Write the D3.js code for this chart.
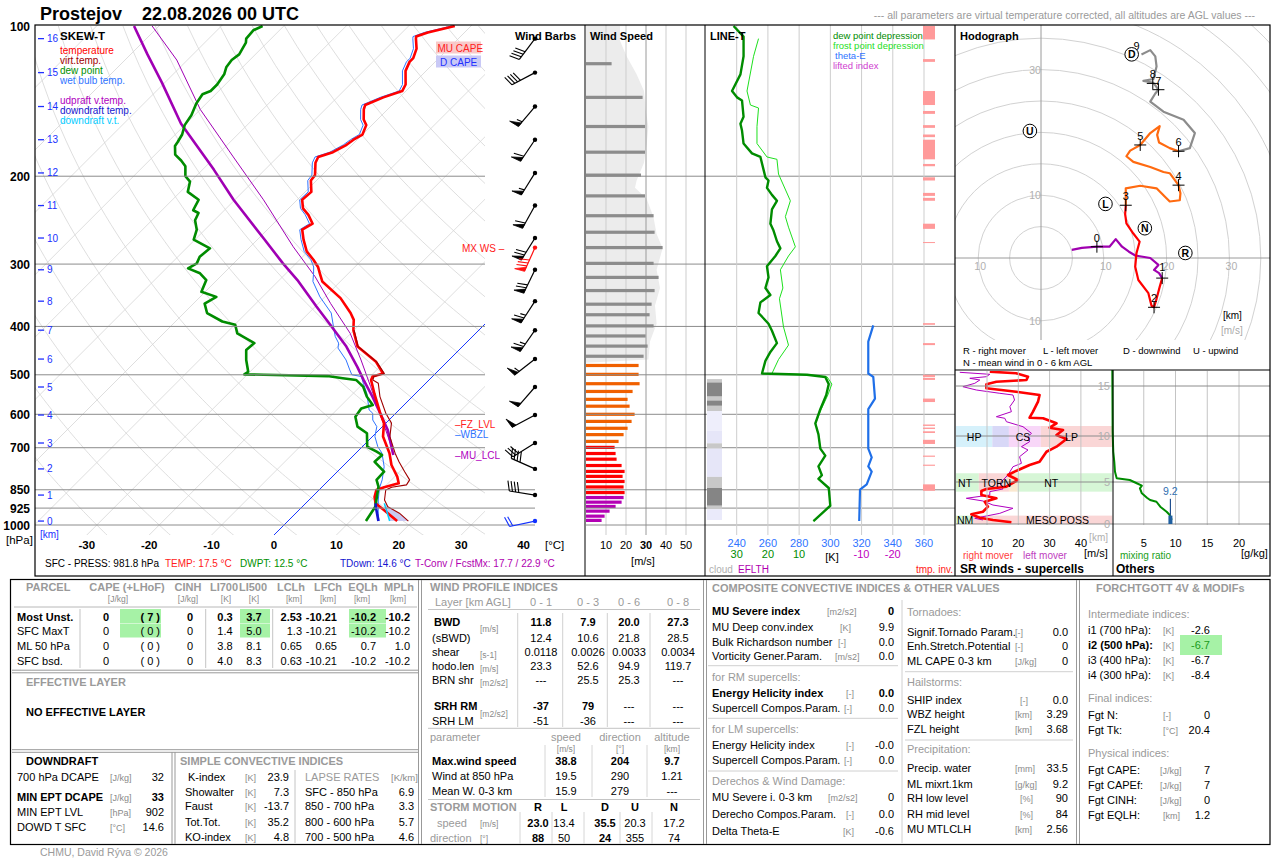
<!DOCTYPE html>
<html>
<head>
<meta charset="utf-8">
<title>Prostejov 22.08.2026 00 UTC</title>
<script src="https://cdn.jsdelivr.net/npm/d3@7/dist/d3.min.js"></script>
<style>
  html, body { margin: 0; padding: 0; background: #fff; }
  svg { display: block; font-family: "Liberation Sans", Arial, Helvetica, sans-serif; }
</style>
</head>
<body>
<svg id="chart" width="1280" height="860"></svg>
<script>
(function () {
  "use strict";

  // =================== DATA ===================
  // ---- skew-T profiles: pressure [hPa] / temperature [°C], surface upward ----
  var tempP = [982,933,905,878,851,840,825,800,758,718,665,625,597,545,512,504,497,471,439,407,388,376,351,325,313,304,294,283,268,256,249,239,232,223,215,204,199,188,183,179,173,169,165,158,154,147,144,139,135,131,123,118,116,111,106,105,103,100];
  var tempT = [17.5,13.6,11.2,10.0,9.2,10.0,11.7,10.4,7.6,5.4,1.7,-0.3,-2.5,-6.6,-9.3,-9.6,-8.4,-11.4,-16.8,-20.1,-21.7,-23.3,-27.3,-32.9,-34.6,-35.9,-37.8,-40.2,-42.6,-44.4,-43.7,-45.8,-47.7,-49.2,-49.0,-50.9,-51.1,-53.0,-53.5,-51.9,-50.9,-50.6,-50.0,-50.9,-52.2,-53.8,-54.3,-52.6,-50.6,-51.1,-53.3,-54.1,-54.1,-55.1,-56.8,-57.1,-55.9,-52.6];
  var dewP = [982,919,838,812,782,747,724,713,697,655,635,607,584,575,553,528,512,508,503,500,499,493,467,446,432,413,397,391,376,360,349,341,323,313,306,299,290,279,268,256,245,237,234,223,215,205,200,191,186,181,174,171,165,158,151,143,137,135,131,125,121,117,114,108,106,102,100];
  var dewT = [12.5,11.7,9.0,7.6,7.5,4.4,4.5,3.1,0.8,-1.4,-4.0,-5.9,-6.3,-5.0,-7.3,-9.5,-11.7,-14.1,-16.9,-27.3,-30.5,-30.3,-32.5,-34.1,-33.9,-38.2,-39.9,-42.5,-46.3,-48.2,-47.4,-50.6,-51.7,-53.8,-56.5,-55.9,-56.5,-56.2,-60.2,-61.3,-63.1,-63.7,-65.0,-65.8,-68.8,-70.1,-71.7,-73.3,-74.9,-76.8,-78.2,-78.4,-78.9,-80.0,-80.5,-81.6,-82.1,-81.3,-81.3,-81.8,-82.6,-82.9,-82.6,-83.4,-84.0,-84.2,-83.4];
  var wbP = [982,947,891,844,812,764,718,697,665,635,616,597,588,545,520,504,500,489,467,442,432,419,400,376,349,325,313,304,294,283,268,256,249,239,232,223,215,204,199,188,183,179,173,169,165,158,154,147,144,139,135,131,123,118,116,111,106,105,103,100];
  var wbT = [14.6,13.2,11.1,9.4,8.5,6.7,4.2,2.5,0.4,-0.9,-2.6,-3.7,-4.8,-7.8,-10.0,-11.4,-13.2,-14.3,-16.5,-19.7,-20.4,-22.0,-23.9,-26.4,-30.8,-34.4,-35.6,-36.6,-38.2,-40.6,-43.0,-44.8,-44.2,-46.3,-48.1,-49.6,-49.5,-51.4,-51.6,-53.5,-54.0,-52.4,-51.4,-51.1,-50.5,-51.4,-52.7,-54.3,-54.8,-53.1,-51.1,-51.6,-53.8,-54.6,-54.6,-55.6,-57.3,-57.6,-56.4,-53.1];
  var tvP = [982,947,919,891,851,840,831,812,782,747,718,665,625,597,553,520,512,504,497,471,439,407];
  var tvT = [19.3,16.6,13.7,12.1,10.7,11.2,13.2,12.9,10.8,8.3,6.3,2.8,0.9,-1.6,-5.2,-7.6,-9.0,-9.4,-8.2,-11.3,-16.7,-20.0];
  var upP = [724,645,597,553,512,482,439,400,365,323,299,266,223,194,157,130,114,100];
  var upT = [6.3,1.4,-2.5,-6.4,-10.5,-13.6,-18.6,-24.2,-29.8,-37.1,-42.1,-49.3,-60.2,-68.2,-80.8,-90.4,-97.3,-104.0];
  var up2P = [697,528,467,413,360,318,277,223,183,147,117,100];
  var up2T = [4.7,-8.3,-14.1,-20.1,-28.0,-34.8,-43.1,-55.4,-67.1,-80.0,-91.7,-101.1];
  var downP = [905,933,982];
  var downT = [11.2,12.4,14.5];
  var downVT = [12.6,14.0,16.3];

  // ---- axes of the skew-T ----
  var pLevels = [100,200,300,400,500,600,700,850,925,1000];
  var tTicks = [-30,-20,-10,0,10,20,30,40];
  var kmLabels = [0,1,2,3,4,5,6,7,8,9,10,11,12,13,14,15,16];
  var kmP = [982,871,772,685,602,529,465,407,356,308,266,229,197,169,145,124,106];

  // ---- wind barbs at every km (direction from [°], speed [m/s]) ----
  var barbDir = [258,279,294,238,242,221,232,215,213,206,212,209,212,214,220,242,217];
  var barbSpd = [9.0,19.6,19.6,15.9,24.8,24.0,27.7,32.7,33.0,35.7,34.0,31.0,27.5,29.5,28.5,21.0,21.0];
  var maxWindP = 278;

  // ---- wind speed column ----
  var wsP = [119,139,159,179,199,219,240,259,278,299,319,339,361,379,399,418,438,459,479,499,521,540,560,578,600,620,640,659,680,699,719,738,760,781,799,818,839,861,881,900,918,938,960,979];
  var wsV = [12.8,28.3,29.5,29.5,27.5,29.5,33.8,34.3,38.3,33.8,36.3,34.3,32.8,31.8,33.8,29.8,30.8,28.8,26.3,26.3,26.8,23.3,20.8,21.8,24.3,22.8,20.8,18.8,16.3,14.3,14.8,15.3,17.8,19.3,18.3,19.3,18.8,19.3,18.8,17.8,14.8,11.8,9.3,7.8];
  var envP = [100,107,115,125,135,147,159,173,188,204,211,222,241,261,279,308,335,363,395,429,466,473];
  var envV = [17,17,20.3,25.3,29,29.8,31.2,30.3,29,25.3,24.5,30.3,33.7,35.3,38.3,35.3,37,34.5,35.3,32,31.2,0];
  var wsTicks = [10,20,30,40,50];

  // ---- LINE-T column ----
  var ddP = [982,915,843,808,795,763,726,703,658,626,586,549,522,505,500,497,469,450,432,408,395,376,358,346,335,319,303,289,279,270,257,249,233,224,218,211,204,201,194,183,180,172,162,157,152,141,139,135,125,115,105,100];
  var ddV = [5.4,0,0.5,3.8,2.7,3.8,1.6,3.2,3.8,4.8,3.2,1.3,0.5,1.6,7.5,21.9,20.8,19.2,17.1,18.7,19.8,23.0,22.4,19.2,20.8,19.8,20.3,17.6,16.0,17.1,18.2,19.2,18.7,17.1,18.7,20.3,19.8,20.8,21.4,22.4,25.1,27.8,28.3,28.8,27.8,28.3,29.9,31.5,28.8,27.8,27.8,31.0];
  var fpP = [982,915,843,808,795,763,726,703,658,626,586,549,522,505,500,497,466,436,401,352,335,308,289,277,253,241,224,198,185,183,172,159,146,144,135,115,106];
  var fpV = [5.4,0,0.5,3.8,2.7,3.8,1.6,3.2,3.8,4.7,2.9,0.8,-0.5,1.0,7.0,18.7,16.6,13.4,15.0,16.3,15.2,16.0,13.4,11.2,13.4,14.4,12.8,16.6,17.1,20.3,23.5,23.5,23.0,25.6,26.7,24.6,23.0];
  var teP = [982,849,829,782,763,732,703,586,558,505,497,429,398];
  var teK = [318.5,319.0,323.3,326.5,324.3,326.5,324.3,324.3,328.6,327.5,324.3,324.3,327.5];
  var invTop = [100,116.5,135,148,158,165,169,189,201,216,221,249,271,394,432,500,507,558,629,638,649,675,726,757,829];
  var invBot = [106.4,118,144,150,160,167,185,191,204,219,224,255,272,397,436,505,512,567,633,642,654,688,730,761,854];
  var cloudTop = [510,518,553,563,577,591,647,686,703,801,843,915,930];
  var cloudBot = [518,553,563,577,591,647,686,703,801,843,915,930,977];
  var cloudFrac = [0.5,1,0.5,1,0.5,0.05,0.15,0.5,0.15,0.5,1,0.5,0.1];
  var kTicks = [240,260,280,300,320,340,360];
  var ddTicks = [30,20,10];
  var liTicks = [-10,-20];

  // ---- hodograph [m/s] by layer ----
  var hodo01U = [4.9,6.5,8.9,10.9,11.9,12.9,14.0,15.0,17.4,18.7,18.0,18.8,19.3];
  var hodo01V = [1.3,1.6,1.8,1.8,3.0,1.8,1.0,0.4,0.0,-1.1,-1.9,-2.4,-3.2];
  var hodo13U = [19.3,18.9,18.4,18.0,17.6,17.1,15.5,15.0,15.2,15.7,14.7,13.6,13.4,13.5];
  var hodo13V = [-3.2,-4.6,-6.5,-7.85,-7.6,-5.6,-3.5,-1.4,0.75,2.6,3.9,5.5,7.0,8.4];
  var hodo36U = [13.5,13.5,15.8,18.4,19.5,20.5,22.1,22.2,21.9,20.5,19.5,17.4,14.7,13.6,14.2,15.8,17.4,18.9,18.5,18.8,20.5,21.9];
  var hodo36V = [8.4,11.1,11.5,11.1,10.0,9.0,9.2,10.3,11.6,13.5,13.7,14.5,15.3,16.2,17.1,18.0,19.9,21.0,19.6,18.4,17.5,17.0];
  var hodo69U = [21.9,23.7,24.5,22.7,19.5,17.4,18.2,18.7,17.9,16.3,17.9,18.4,18.2,17.4,16.0];
  var hodo69V = [17.0,17.5,19.9,22.0,23.3,24.9,26.2,26.8,27.9,28.2,28.5,30.5,32.1,33.1,32.4];
  var kmHodoU = [8.9,19.3,18.0,13.5,21.9,15.8,21.9,18.7,17.8,16.0];
  var kmHodoV = [1.8,-3.2,-7.85,8.4,11.6,18.0,17.0,26.8,27.8,32.4];
  var hodoTickU = [-10,10,20,30];
  var hodoTickV = [30,10,-10];

  // ---- storm motion ----
  var smName = ["R","L","D","U","N"];
  var smSpeed = [23.0,13.4,35.5,20.3,17.2];
  var smDir = [88,50,24,355,74];

  // ---- storm-relative winds (height km / speed m/s) ----
  var rmH = [0.2,0.48,0.75,1.15,1.46,2.06,2.65,3.06,3.45,3.93,4.17,4.44,5.22,5.76,6.2,6.85,7.2,8.29,8.84,9.67,10.1,10.6,10.83,11.27,11.77,11.83,12.43,13.43,14.1,14.43,14.77,15.17,15.43,15.6,15.93,16.27,16.43];
  var rmS = [17.8,11.9,7.7,5.0,8.7,10.3,9.3,13.0,8.2,8.2,9.8,16.2,19.9,16.7,19.3,23.6,26.8,29.0,32.2,35.4,32.2,34.3,30.0,32.2,27.9,23.6,24.7,26.3,26.8,19.3,9.8,9.8,13.0,22.6,23.1,19.3,10.9];
  var lmH = [0.48,0.68,1.27,1.87,2.26,2.74,3.06,3.45,3.85,4.17,4.85,5.76,6.66,7.03,7.75,8.48,8.84,9.38,9.92,10.27,10.93,11.43,11.77,11.93,12.43,12.93,13.6,14.1,14.27,14.6,14.93,15.27,15.6,15.77,15.93,16.17,16.37];
  var lmS = [8.7,6.1,14.1,18.3,11.9,8.7,3.4,10.9,10.9,15.1,14.1,16.7,18.3,21.0,20.4,23.1,21.0,23.6,23.1,24.2,21.5,16.2,15.7,13.0,17.8,17.3,18.8,18.3,14.1,6.6,2.3,6.1,7.7,4.5,9.8,10.9,1.3];
  var bandLabel = ["HP","","CS","LP","NT","TORN","","NT","NM","MESO POSS"];
  var bandLo = [8.8,8.8,8.8,8.8,3.85,3.85,3.85,3.85,0,0];
  var bandHi = [11,11,11,11,5.95,5.95,5.95,5.95,1,1];
  var bandS0 = [0,11.7,17,27.2,0,7.4,17,19.8,0,5.5];
  var bandS1 = [11.7,17,27.2,50,7.4,17,19.8,50,5.5,50];
  var bandLabS = [5.9,0,21.5,37,3.0,13.0,0,30.5,3.0,32.5];
  var bandCol = ["#d6f1fb","#d8d8f7","#f8d7f8","#fad6d6","#d6f6d6","#fad6d6","#fae8d0","#d6f6d6","#d6f6d6","#fad6d6"];
  var srTicks = [10,20,30,40];
  var hTicks = [0,5,10,15];

  // ---- mixing ratio (height km / g/kg) ----
  var mrH = [0.48,1.07,1.46,2.06,2.65,2.86,3.13,3.65,4.25,4.56,4.85,5.22,5.4,6.12,7.2,8.29,10.43,16.6];
  var mrG = [9.4,9.1,8.6,7.6,7.0,6.0,5.5,4.7,4.4,4.7,3.9,2.8,0.74,0.47,0.36,0.2,0.1,0.05];
  var mrTicks = [5,10,15,20];
  var mlMix = 9.2;

  // ---- tables ----
  var parcelRows = ["Most Unst.","SFC MaxT","ML 50 hPa","SFC bsd."];
  var parcelCape = ["0","0","0","0"];
  var parcelLhof = ["7","0","0","0"];
  var parcelCinh = ["0","0","0","0"];
  var parcelLi700 = ["0.3","1.4","3.8","4.0"];
  var parcelLi500 = ["3.7","5.0","8.1","8.3"];
  var parcelLcl = ["2.53","1.3","0.65","0.63"];
  var parcelLfc = ["-10.21","-10.21","0.65","-10.21"];
  var parcelEql = ["-10.2","-10.2","0.7","-10.2"];
  var parcelMpl = ["-10.2","-10.2","1.0","-10.2"];
  var parcelHead = ["CAPE (+LHoF)","CINH","LI700","LI500","LCLh","LFCh","EQLh","MPLh"];
  var parcelUnit = ["[J/kg]","[J/kg]","[K]","[K]","[km]","[km]","[km]","[km]"];

  var dcLab = ["700 hPa DCAPE","MIN EPT DCAPE","MIN EPT LVL","DOWD T SFC"];
  var dcUnit = ["[J/kg]","[J/kg]","[hPa]","[°C]"];
  var dcVal = ["32","33","902","14.6"];
  var sciLab = ["K-index","Showalter","Faust"," Tot.Tot.","KO-index"];
  var sciVal = ["23.9","7.3","-13.7","35.2","4.8"];
  var lapseLab = ["SFC - 850 hPa","850 - 700 hPa","800 - 600 hPa","700 - 500 hPa"];
  var lapseVal = ["6.9","3.3","5.7","4.6"];

  var wpLayers = ["0 - 1","0 - 3","0 - 6","0 - 8"];
  var wpRowLab = ["BWD","(sBWD)","shear","hodo.len","BRN shr","SRH RM","SRH LM"];
  var wpBwd = ["11.8","7.9","20.0","27.3"];
  var wpSbwd = ["12.4","10.6","21.8","28.5"];
  var wpShear = ["0.0118","0.0026","0.0033","0.0034"];
  var wpHodoLen = ["23.3","52.6","94.9","119.7"];
  var wpBrn = ["---","25.5","25.3","---"];
  var wpSrhRM = ["-37","79","---","---"];
  var wpSrhLM = ["-51","-36","---","---"];
  var mwLab = ["Max.wind speed"," Wind at 850 hPa"," Mean W. 0-3 km"];
  var mwSpeed = ["38.8","19.5","15.9"];
  var mwDir = ["204","290","279"];
  var mwAlt = ["9.7","1.21","---"];

  var compLeftLab = ["MU Severe index","MU Deep conv.index","Bulk Richardson number","Vorticity Gener.Param.","for RM supercells:","Energy Helicity index","Supercell Compos.Param.","for LM supercells:","Energy Helicity index","Supercell Compos.Param.","Derechos & Wind Damage:","MU Severe i. 0-3 km","Derecho Compos.Param.","Delta Theta-E"];
  var compLeftUnit = ["[m2/s2]","[K]","[-]","[m/s2]","","[-]","[-]","","[-]","[-]","","[m2/s2]","[-]","[K]"];
  var compLeftVal = ["0","9.9","0.0","0.0","","0.0","0.0","","-0.0","0.0","","0","0.0","-0.6"];
  var compRightLab = ["Tornadoes:","Signif.Tornado Param.","Enh.Stretch.Potential","ML CAPE 0-3 km","Hailstorms:","SHIP index","WBZ height","FZL height","Precipitation:","Precip. water","ML mixrt.1km","RH low level","RH mid level","MU MTLCLH"];
  var compRightUnit = ["","[-]","[-]","[J/kg]","","[-]","[km]","[km]","","[mm]","[g/kg]","[%]","[%]","[km]"];
  var compRightVal = ["","0.0","0","0","","0.0","3.29","3.68","","33.5","9.2","90","84","2.56"];

  var fgLab = ["Intermediate indices:","i1 (700 hPa):","i2 (500 hPa):","i3 (400 hPa):","i4 (300 hPa):","Final indices:","Fgt N:","Fgt Tk:","Physical indices:","Fgt CAPE:","Fgt CAPEf:","Fgt CINH:","Fgt EQLH:"];
  var fgUnit = ["","[K]","[K]","[K]","[K]","","[-]","[°C]","","[J/kg]","[J/kg]","[J/kg]","[km]"];
  var fgVal = ["","-2.6","-6.7","-6.7","-8.4","","0","20.4","","7","7","0","1.2"];

  // =================== DRAWING ===================
  var svg = d3.select("#chart");
  var defs = svg.append("defs");
  var GRAY = "#9a9a9a", UNIT = "#8a8a8a";

  function clip(id, x, y, w, h) {
    defs.append("clipPath").attr("id", id).append("rect")
      .attr("x", x).attr("y", y).attr("width", w).attr("height", h);
  }
  clip("cSkew", 35, 25, 450, 510);
  clip("cHodo", 955, 25, 315, 315);
  clip("cSR", 956, 371, 157, 154);

  function txt(g, x, y, s, o) {
    o = o || {};
    return g.append("text").attr("x", x).attr("y", y)
      .attr("font-size", o.s || 11)
      .attr("font-weight", o.b ? "bold" : null)
      .attr("fill", o.c || "#000")
      .attr("text-anchor", o.a || "start")
      .text(s);
  }
  function ln(g, x1, y1, x2, y2, c, w) {
    return g.append("line").attr("x1", x1).attr("y1", y1).attr("x2", x2).attr("y2", y2)
      .attr("stroke", c || "#000").attr("stroke-width", w || 1);
  }
  function path(g, pts, c, w) {
    return g.append("path").attr("d", d3.line()(pts)).attr("fill", "none")
      .attr("stroke", c).attr("stroke-width", w).attr("stroke-linejoin", "round");
  }

  // ---- title ----
  txt(svg, 40, 20, "Prostejov", { s: 18, b: true });
  txt(svg, 142, 20, "22.08.2026 00 UTC", { s: 18, b: true });
  txt(svg, 1255, 19, "--- all parameters are virtual temperature corrected, all altitudes are AGL values ---", { s: 10.5, c: GRAY, a: "end" });

  // ---- scales ----
  var yP = d3.scaleLog().domain([1000, 100]).range([525, 26]);
  var xT = d3.scaleLinear().domain([0, 10]).range([274, 336.4]);
  function sx(t, p) { return xT(t) + (535 - yP(p)); }
  function prof(P, V) { return P.map(function (p, i) { return [sx(V[i], p), yP(p)]; }); }

  // ================= SKEW-T =================
  var sk = svg.append("g");
  var skc = sk.append("g").attr("clip-path", "url(#cSkew)");
  d3.range(-160, 60, 10).forEach(function (t) {
    ln(skc, xT(t), 535, xT(t) + 510, 25, "#d6d6d6", 0.8);
  });
  var adP = d3.range(1060, 95, -10);
  d3.range(-30, 220, 10).forEach(function (th) {
    var pts = adP.map(function (p) {
      return [sx((th + 273.15) * Math.pow(p / 1000, 0.2857) - 273.15, p), yP(p)];
    });
    path(skc, pts, "#d6d6d6", 0.8);
  });
  pLevels.forEach(function (p) {
    if (p === 100) return;
    ln(sk, 35, yP(p), p >= 850 ? 535 : 485, yP(p), "#8c8c8c", 1);
  });
  ln(skc, xT(0), 535, xT(0) + 510, 25, "#1838ff", 1);

  // D CAPE area between downdraft virtual temperature and the virtual temperature
  var dcapePts = prof(downP, downVT).concat(
    tvP.map(function (p, i) { return { p: p, t: tvT[i] }; })
      .filter(function (d) { return d.p >= downP[0]; })
      .map(function (d) { return [sx(d.t, d.p), yP(d.p)]; }));
  skc.append("path").attr("d", d3.line()(dcapePts) + "Z").attr("fill", "#c9c9f2").attr("stroke", "none");

  path(skc, prof(up2P, up2T), "#a000b4", 1);
  path(skc, prof(wbP, wbT), "#2f74ff", 1);
  path(skc, prof(upP, upT), "#a000b4", 2.6);
  path(skc, prof(tempP, tempT), "#ff0000", 2.6);
  path(skc, prof(tvP, tvT), "#a00000", 1.1);
  path(skc, prof(dewP, dewT), "#008c00", 2.6);
  path(skc, prof(downP, downVT), "#00d0ff", 1.5);
  path(skc, prof(downP, downT), "#1515d0", 2.6);

  // pressure labels
  pLevels.forEach(function (p) {
    txt(sk, 30, yP(p) + 4.5, String(p), { s: 12, b: true, a: "end" });
  });
  txt(sk, 6, 544, "[hPa]", { s: 11.5 });
  tTicks.forEach(function (t) {
    txt(sk, xT(t), 549, String(t), { s: 11.5, b: true, a: "middle" });
  });
  txt(sk, 545, 549, "[°C]", { s: 11.5 });
  // km labels
  kmLabels.forEach(function (k, i) {
    var y = yP(kmP[i]);
    ln(sk, 38, y, 44, y, "#2030ff", 1.3);
    txt(sk, 47, y + 3.5, String(k), { s: 10, c: "#2030ff" });
  });
  txt(sk, 40, 538, "[km]", { s: 10, c: "#2030ff" });

  // legend
  txt(sk, 60, 40, "SKEW-T", { s: 11.5, b: true });
  [["temperature", "#ff0000", 54], ["virt.temp.", "#a00000", 64], ["dew point", "#009000", 74],
   ["wet bulb temp.", "#2f74ff", 84], ["udpraft v.temp.", "#b000c0", 104],
   ["downdraft temp.", "#1515d0", 114], ["downdraft v.t.", "#00ccff", 124]].forEach(function (d) {
    txt(sk, 60, d[2], d[0], { s: 10, c: d[1] });
  });
  sk.append("rect").attr("x", 436).attr("y", 41.5).attr("width", 45).attr("height", 12).attr("fill", "#f8c9c9");
  txt(sk, 437.5, 51.5, "MU CAPE", { s: 10, c: "#ff2020" });
  sk.append("rect").attr("x", 436).attr("y", 55.5).attr("width", 45).attr("height", 12).attr("fill", "#c9c9f6");
  txt(sk, 440, 65.5, "D CAPE", { s: 10, c: "#2030ff" });

  txt(sk, 455, 427.5, "–FZ_LVL", { s: 10, c: "#ff2020" });
  txt(sk, 455, 437.5, "–WBZL", { s: 10, c: "#2f74ff" });
  txt(sk, 455, 459, "–MU_LCL", { s: 10, c: "#b000c0" });
  txt(sk, 462, 251.5, "MX WS –", { s: 10, c: "#ff2020" });

  txt(sk, 45, 567, "SFC - PRESS: 981.8 hPa", { s: 10 });
  txt(sk, 165, 567, "TEMP: 17.5 °C", { s: 10, c: "#ff2020" });
  txt(sk, 240, 567, "DWPT: 12.5 °C", { s: 10, c: "#009000" });
  txt(sk, 340, 567, "TDown: 14.6 °C", { s: 10, c: "#1515d0" });
  txt(sk, 415, 567, "T-Conv / FcstMx: 17.7 / 22.9 °C", { s: 10, c: "#b000b0" });

  // ================= WIND BARBS (m/s: flag 25, barb 5, half 2.5) =================
  var bg = svg.append("g");
  txt(bg, 515, 40, "Wind Barbs", { s: 11, b: true });
  function barb(g, x0, y0, dir, ms, col) {
    var v = Math.round(ms / 2.5) * 2.5;
    var a = dir * Math.PI / 180;
    var dx = Math.sin(a), dy = -Math.cos(a);
    var fx = -dy, fy = dx;
    var Ls = 26, fl = 10, pos = 0;
    var tx = x0 + dx * Ls, ty = y0 + dy * Ls;
    ln(g, x0, y0, tx, ty, col, 1.2);
    g.append("circle").attr("cx", x0).attr("cy", y0).attr("r", 2.2).attr("fill", col);
    function P(d) { return [tx - dx * d, ty - dy * d]; }
    var rest = v;
    while (rest >= 25) {
      var p0 = P(pos), p1 = P(pos + 4.5);
      g.append("path").attr("d", d3.line()([p0, [p0[0] + fx * fl + dx * 1.5, p0[1] + fy * fl + dy * 1.5], p1]) + "Z")
        .attr("fill", col).attr("stroke", col).attr("stroke-width", 0.8);
      pos += 6; rest -= 25;
    }
    while (rest >= 5) {
      var q = P(pos);
      ln(g, q[0], q[1], q[0] + fx * fl + dx * 3, q[1] + fy * fl + dy * 3, col, 1.1);
      pos += 3.2; rest -= 5;
    }
    if (rest >= 2.5) {
      if (pos === 0) pos = 3.2;
      var h = P(pos);
      ln(g, h[0], h[1], h[0] + fx * fl * 0.55 + dx * 1.6, h[1] + fy * fl * 0.55 + dy * 1.6, col, 1.1);
    }
  }
  kmP.forEach(function (p, i) {
    barb(bg, 535, yP(p), barbDir[i], barbSpd[i], i === 0 ? "#1030ff" : "#000");
  });
  barb(bg, 535, yP(maxWindP), +mwDir[0], +mwSpeed[0], "#ff1010");

  // ================= WIND SPEED =================
  var wg = svg.append("g");
  var xW = d3.scaleLinear().domain([0, 50]).range([586, 686]);
  wg.append("path")
    .attr("d", d3.area().x0(xW(0)).x1(function (d) { return xW(d[1]); }).y(function (d) { return yP(d[0]); })(
      envP.map(function (p, i) { return [p, envV[i]]; })))
    .attr("fill", "#ececec");
  wsTicks.forEach(function (v) {
    ln(wg, xW(v), 25, xW(v), 535, v === 30 ? "#9a9a9a" : "#cdcdcd", 1);
    txt(wg, xW(v), 549, String(v), { s: 11, a: "middle", b: v === 30 });
  });
  txt(wg, 643, 565, "[m/s]", { s: 11, a: "middle" });
  function layerColor(p) {
    if (p > kmP[1]) return "#b400b4";
    if (p > kmP[3]) return "#ff0000";
    if (p > kmP[6]) return "#f06000";
    return "#8c8c8c";
  }
  wsP.forEach(function (p, i) {
    wg.append("rect").attr("x", xW(0)).attr("y", yP(p) - 1.6)
      .attr("width", xW(wsV[i]) - xW(0)).attr("height", 3.2).attr("fill", layerColor(p));
  });
  txt(wg, 590, 40, "Wind Speed", { s: 11, b: true });

  // pressure lines through wind speed & LINE-T
  pLevels.forEach(function (p) {
    if (p === 100) return;
    ln(svg, 586, yP(p), 955, yP(p), "#8c8c8c", 1);
  });

  // ================= LINE-T =================
  var lg = svg.append("g");
  var xK = d3.scaleLinear().domain([240, 360]).range([736.7, 924]);
  var xD = d3.scaleLinear().domain([0, 30]).range([830.3, 736.7]);
  kTicks.forEach(function (k) {
    ln(lg, xK(k), 25, xK(k), 535, "#cdcdcd", 1);
    txt(lg, xK(k), 547, String(k), { s: 11, a: "middle", c: "#2f74ff" });
  });
  ddTicks.forEach(function (d) { txt(lg, xD(d), 558, String(d), { s: 11, a: "middle", c: "#008c00" }); });
  liTicks.forEach(function (d) { txt(lg, xD(d), 558, String(d), { s: 11, a: "middle", c: "#c000c0" }); });
  txt(lg, 832, 561, "[K]", { s: 11, a: "middle" });
  txt(lg, 709, 573, "cloud", { s: 10, c: "#b0b0b0" });
  txt(lg, 738, 573, "EFLTH", { s: 10, c: "#b000b0" });
  txt(lg, 953, 573, "tmp. inv.", { s: 10, c: "#ff2020", a: "end" });

  var cloudCol = d3.scaleLinear().domain([0, 0.2, 0.5, 1]).range(["#f2f2fc", "#e2e2f7", "#c8c8c8", "#858585"]);
  cloudTop.forEach(function (p, i) {
    lg.append("rect").attr("x", 707).attr("y", yP(p)).attr("width", 15)
      .attr("height", yP(cloudBot[i]) - yP(p)).attr("fill", cloudCol(cloudFrac[i]));
  });
  invTop.forEach(function (p, i) {
    lg.append("rect").attr("x", 923).attr("y", yP(p)).attr("width", 12)
      .attr("height", Math.max(1, yP(invBot[i]) - yP(p))).attr("fill", "#ff9a9a");
  });
  path(lg, fpP.map(function (p, i) { return [xD(fpV[i]), yP(p)]; }), "#1ee01e", 1);
  path(lg, ddP.map(function (p, i) { return [xD(ddV[i]), yP(p)]; }), "#008c00", 2.4);
  path(lg, teP.map(function (p, i) { return [xK(teK[i]), yP(p)]; }), "#1f6fe8", 2.2);
  txt(lg, 710, 40, "LINE-T", { s: 11, b: true });
  txt(lg, 833, 39, "dew point depression", { s: 9.5, c: "#008c00" });
  txt(lg, 833, 49, "frost point depression", { s: 9.5, c: "#1ee01e" });
  txt(lg, 835, 59, "theta-E", { s: 9.5, c: "#2f74ff" });
  txt(lg, 833, 69, "lifted index", { s: 9.5, c: "#d040d0" });

  // ================= HODOGRAPH =================
  var hg = svg.append("g");
  var hx = d3.scaleLinear().domain([0, 10]).range([1041, 1103.8]);
  var hy = d3.scaleLinear().domain([0, 10]).range([258, 195.2]);
  var hc = hg.append("g").attr("clip-path", "url(#cHodo)");
  d3.range(5, 60, 5).forEach(function (r) {
    hc.append("circle").attr("cx", hx(0)).attr("cy", hy(0)).attr("r", hx(r) - hx(0))
      .attr("fill", "none").attr("stroke", "#d2d2d2").attr("stroke-width", 1);
  });
  ln(hc, 955, hy(0), 1270, hy(0), "#9a9a9a", 1);
  ln(hc, hx(0), 25, hx(0), 340, "#9a9a9a", 1);
  hodoTickU.forEach(function (u) { txt(hg, hx(u) + 2, hy(0) + 12, String(Math.abs(u)), { s: 10.5, a: "middle", c: "#b0b0b0" }); });
  hodoTickV.forEach(function (v) { txt(hg, hx(0) - 6, hy(v) + 4, String(Math.abs(v)), { s: 10.5, a: "middle", c: "#b0b0b0" }); });
  [[hodo01U, hodo01V, "#a000b0"], [hodo13U, hodo13V, "#ff0000"],
   [hodo36U, hodo36V, "#ff6a10"], [hodo69U, hodo69V, "#8c8c8c"]].forEach(function (L) {
    path(hg, L[0].map(function (u, i) { return [hx(u), hy(L[1][i])]; }), L[2], 2.2);
  });
  kmHodoU.forEach(function (u, i) {
    var x = hx(u), y = hy(kmHodoV[i]);
    var last = i === kmHodoU.length - 1;
    if (!last) {
      ln(hg, x - 6, y, x + 6, y, "#000", 1);
      ln(hg, x, y - 6, x, y + 6, "#000", 1);
    }
    txt(hg, x - (last ? 5 : 0), y - (i === 1 ? 7 : 5), String(i), { s: 11, a: "middle" });
  });
  smName.forEach(function (n, i) {
    var a = smDir[i] * Math.PI / 180;
    var x = hx(smSpeed[i] * Math.sin(a)), y = hy(smSpeed[i] * Math.cos(a));
    hg.append("circle").attr("cx", x).attr("cy", y).attr("r", 6.8).attr("fill", "#fff").attr("stroke", "#000").attr("stroke-width", 1);
    txt(hg, x, y + 4, n, { s: 10.5, b: true, a: "middle" });
  });
  txt(hg, 960, 40, "Hodograph", { s: 11, b: true });
  txt(hg, 1223, 319, "[km]", { s: 10 });
  txt(hg, 1221, 334, "[m/s]", { s: 10, c: "#aaa" });
  txt(hg, 963, 354, "R - right mover", { s: 9.5 });
  txt(hg, 1043, 354, "L - left mover", { s: 9.5 });
  txt(hg, 1123, 354, "D - downwind", { s: 9.5 });
  txt(hg, 1193, 354, "U - upwind", { s: 9.5 });
  txt(hg, 963, 366, "N - mean wind in 0 - 6 km AGL", { s: 9.5 });

  // ================= SR WINDS & OTHERS =================
  var sg = svg.append("g");
  var srx = d3.scaleLinear().domain([0, 10]).range([955.7, 987]);
  var sry = d3.scaleLinear().domain([0, 5, 10, 15, 17]).range([524, 482, 436, 386, 366]);
  var mrx = d3.scaleLinear().domain([0, 20]).range([1112, 1239]);
  var sc = sg.append("g").attr("clip-path", "url(#cSR)");
  bandLabel.forEach(function (b, i) {
    sc.append("rect").attr("x", srx(bandS0[i])).attr("y", sry(bandHi[i]))
      .attr("width", srx(bandS1[i]) - srx(bandS0[i])).attr("height", sry(bandLo[i]) - sry(bandHi[i]))
      .attr("fill", bandCol[i]);
  });
  srTicks.forEach(function (s) {
    ln(sg, srx(s), 371, srx(s), 525, "#c4c4c4", 1);
    txt(sg, srx(s), 547, String(s), { s: 11, a: "middle" });
  });
  mrTicks.forEach(function (g) {
    ln(sg, mrx(g), 371, mrx(g), 525, "#c4c4c4", 1);
    txt(sg, mrx(g), 547, String(g), { s: 11, a: "middle" });
  });
  hTicks.forEach(function (h) {
    ln(sg, 956, sry(h), 1270, sry(h), "#8c8c8c", 1);
    txt(sg, 1110, sry(h) + 4, String(h), { s: 11, a: "end", c: "#b0b0b0" });
  });
  bandLabel.forEach(function (b, i) {
    if (!b) return;
    txt(sg, srx(bandLabS[i]), sry((bandLo[i] + bandHi[i]) / 2) + 4, b, { s: 10.5, a: "middle" });
  });
  path(sc, lmH.map(function (h, i) { return [srx(lmS[i]), sry(h)]; }), "#b000c0", 1);
  path(sc, rmH.map(function (h, i) { return [srx(rmS[i]), sry(h)]; }), "#ff0000", 2.6);
  path(sg, mrH.map(function (h, i) { return [mrx(mrG[i]), sry(h)]; }), "#008c00", 2);
  ln(sg, mrx(mlMix), sry(1), mrx(mlMix), sry(3), "#1f4f8f", 1.2);
  sg.append("rect").attr("x", mrx(mlMix) - 2).attr("y", sry(1)).attr("width", 4).attr("height", sry(0) - sry(1)).attr("fill", "#1f5fa0");
  txt(sg, mrx(mlMix), sry(3) - 4, String(mlMix), { s: 10.5, a: "middle", c: "#2f6fb0" });
  txt(sg, 1108, 541, "[km]", { s: 10, a: "end", c: "#b0b0b0" });
  txt(sg, 1084, 557, "[m/s]", { s: 11 });
  txt(sg, 963, 559, "right mover", { s: 10, c: "#ff4040" });
  txt(sg, 1023, 559, "left mover", { s: 10, c: "#c040c0" });
  txt(sg, 960, 573, "SR winds - supercells", { s: 12, b: true });
  txt(sg, 1120, 559, "mixing ratio", { s: 10, c: "#20a020" });
  txt(sg, 1241, 557, "[g/kg]", { s: 11 });
  txt(sg, 1116, 573, "Others", { s: 12, b: true });

  // ---- frames of the upper panel ----
  var fr = svg.append("g").attr("fill", "none").attr("stroke", "#000");
  fr.append("rect").attr("x", 35).attr("y", 25).attr("width", 1235).attr("height", 551).attr("stroke-width", 1.2);
  ln(fr, 585, 25, 585, 576, "#000", 1);
  ln(fr, 705, 25, 705, 576, "#000", 1);
  ln(fr, 955, 25, 955, 576, "#000", 1.2);
  ln(fr, 955, 370, 1270, 370, "#000", 1.2);
  ln(fr, 1113, 370, 1113, 576, "#000", 1);

  // ================= TABLES =================
  var tb = svg.append("g");
  tb.append("rect").attr("x", 10.5).attr("y", 579.5).attr("width", 1259.5).attr("height", 265)
    .attr("fill", "none").attr("stroke", "#000").attr("stroke-width", 1.2);
  function dbl(x1, y1, x2, y2) {
    if (x1 === x2) { ln(tb, x1 - 1.5, y1, x1 - 1.5, y2, "#999", 1); ln(tb, x1 + 1.5, y1, x1 + 1.5, y2, "#999", 1); }
    else { ln(tb, x1, y1 - 1.3, x2, y1 - 1.3, "#999", 1); ln(tb, x1, y1 + 1.3, x2, y1 + 1.3, "#999", 1); }
  }
  dbl(420, 580, 420, 844);
  dbl(705, 580, 705, 844);
  dbl(1078, 580, 1078, 844);
  dbl(12, 671.5, 418, 671.5);
  dbl(12, 751, 418, 751);
  dbl(173.5, 752, 173.5, 844);

  // ---- PARCEL ----
  var phX = [127, 188, 224, 253, 291, 328, 363, 399];
  var puX = [118, 188, 226, 254, 294, 328, 362, 398];
  txt(tb, 26, 591, "PARCEL", { c: GRAY, b: true });
  parcelHead.forEach(function (h, i) { txt(tb, phX[i], 591, h, { c: GRAY, b: true, a: "middle" }); });
  parcelUnit.forEach(function (u, i) { txt(tb, puX[i], 602, u, { c: UNIT, s: 8.5, a: "middle" }); });
  ln(tb, 14, 607, 417, 607, "#b8b8b8", 1);
  [80, 205.7, 272.7].forEach(function (x) { ln(tb, x, 609, x, 668, "#c4c4c4", 1); });
  var pRowY = [620.5, 635, 650, 665];
  parcelRows.forEach(function (r, i) {
    var y = pRowY[i], b = i === 0;
    if (i < 2) {
      [[120, 41], [240, 30], [349, 37]].forEach(function (bx) {
        tb.append("rect").attr("x", bx[0]).attr("y", y - 11.5).attr("width", bx[1]).attr("height", 14).attr("fill", "#a6f2a6");
      });
    }
    txt(tb, 17, y, r, { b: b });
    txt(tb, 106, y, parcelCape[i], { b: b, a: "middle" });
    txt(tb, 160, y, "( " + parcelLhof[i] + " )", { b: b, a: "end" });
    txt(tb, 190, y, parcelCinh[i], { b: b, a: "middle" });
    txt(tb, 225, y, parcelLi700[i], { b: b, a: "middle" });
    txt(tb, 254, y, parcelLi500[i], { b: b, a: "middle" });
    txt(tb, 302, y, parcelLcl[i], { b: b, a: "end" });
    txt(tb, 337, y, parcelLfc[i], { b: b, a: "end" });
    txt(tb, 376, y, parcelEql[i], { b: b, a: "end" });
    txt(tb, 410, y, parcelMpl[i], { b: b, a: "end" });
  });
  txt(tb, 26, 685.5, "EFFECTIVE LAYER", { c: GRAY, b: true });
  txt(tb, 26, 715.5, "NO EFFECTIVE LAYER", { b: true });

  // ---- DOWNDRAFT ----
  txt(tb, 26, 765, "DOWNDRAFT", { b: true });
  var dcY = [780.5, 800.5, 815.5, 830.5];
  dcLab.forEach(function (l, i) {
    txt(tb, 17, dcY[i], l, { b: i === 1 });
    txt(tb, 110, dcY[i], dcUnit[i], { c: UNIT, s: 9 });
    txt(tb, 164, dcY[i], dcVal[i], { b: i === 1, a: "end" });
  });

  // ---- SIMPLE CONVECTIVE INDICES ----
  txt(tb, 180, 765, "SIMPLE CONVECTIVE INDICES", { c: GRAY, b: true });
  ln(tb, 295, 770, 295, 843, "#c4c4c4", 1);
  var sciY = [780.5, 795.5, 810, 825.5, 840.5];
  var sciX = [188, 185, 185, 185, 185];
  sciLab.forEach(function (l, i) {
    txt(tb, sciX[i], sciY[i], l);
    txt(tb, 245, sciY[i], "[K]", { c: UNIT, s: 9 });
    txt(tb, 289, sciY[i], sciVal[i], { a: "end" });
  });
  txt(tb, 305, 780.5, "LAPSE RATES", { c: GRAY });
  txt(tb, 391, 780.5, "[K/km]", { c: UNIT, s: 9.5 });
  lapseLab.forEach(function (l, i) {
    txt(tb, 305, sciY[i + 1], l);
    txt(tb, 414, sciY[i + 1], lapseVal[i], { a: "end" });
  });
  txt(tb, 40, 856, "CHMU, David Rýva © 2026", { c: GRAY, s: 10.5 });

  // ---- WIND PROFILE INDICES ----
  var wcX = [541, 588, 629, 678];
  txt(tb, 430, 591, "WIND PROFILE INDICES", { c: GRAY, b: true });
  txt(tb, 435, 605.5, "Layer [km AGL]", { c: GRAY });
  wpLayers.forEach(function (l, i) { txt(tb, wcX[i], 605.5, l, { c: GRAY, a: "middle" }); });
  ln(tb, 428, 609.5, 700, 609.5, "#c4c4c4", 1);
  [517.7, 562.7, 607.3, 650].forEach(function (x) { ln(tb, x, 613, x, 727, "#d0d0d0", 1); });
  var wpY = [625.5, 642, 655.5, 669.5, 684, 709.5, 725];
  var wpVals = [wpBwd, wpSbwd, wpShear, wpHodoLen, wpBrn, wpSrhRM, wpSrhLM];
  wpRowLab.forEach(function (l, r) {
    var bold = (r === 0 || r === 5);
    txt(tb, bold ? 434 : 432, wpY[r], l, { b: bold });
    wpVals[r].forEach(function (v, i) {
      txt(tb, wcX[i], wpY[r], v, { a: "middle", b: (r === 0) || (r === 5 && i < 2) });
    });
  });
  txt(tb, 480, 632, "[m/s]", { c: UNIT, s: 8.5 });
  txt(tb, 480, 658, "[s-1]", { c: UNIT, s: 8.5 });
  txt(tb, 480, 672, "[m/s]", { c: UNIT, s: 8.5 });
  txt(tb, 480, 686, "[m2/s2]", { c: UNIT, s: 8.5 });
  txt(tb, 480, 717, "[m2/s2]", { c: UNIT, s: 8.5 });
  ln(tb, 428, 728.3, 700, 728.3, "#c4c4c4", 1);
  txt(tb, 430, 740.5, "parameter", { c: GRAY });
  var mwX = [566, 620, 672];
  ["speed", "direction", "altitude"].forEach(function (h, i) { txt(tb, mwX[i], 740.5, h, { c: GRAY, a: "middle" }); });
  ["[m/s]", "[°]", "[km]"].forEach(function (h, i) { txt(tb, mwX[i], 751.5, h, { c: UNIT, s: 8.5, a: "middle" }); });
  [545, 592, 647].forEach(function (x) { ln(tb, x, 745, x, 797, "#d6d6d6", 1); });
  var mwY = [764.5, 780, 795];
  mwLab.forEach(function (l, i) {
    var b = i === 0;
    txt(tb, 432, mwY[i], l, { b: b });
    txt(tb, mwX[0], mwY[i], mwSpeed[i], { a: "middle", b: b });
    txt(tb, mwX[1], mwY[i], mwDir[i], { a: "middle", b: b });
    txt(tb, mwX[2], mwY[i], mwAlt[i], { a: "middle", b: b });
  });
  ln(tb, 428, 799.5, 700, 799.5, "#c4c4c4", 1);
  txt(tb, 430, 810.5, "STORM MOTION", { c: GRAY, b: true });
  var smX = [538, 564, 605, 635, 674];
  [520, 552, 584, 620, 652].forEach(function (x) { ln(tb, x, 812, x, 844, "#d6d6d6", 1); });
  smName.forEach(function (n, i) {
    var b = (i === 0 || i === 2);
    txt(tb, smX[i], 810.5, n, { a: "middle", b: true });
    txt(tb, smX[i], 827, smSpeed[i].toFixed(1), { a: "middle", b: b });
    txt(tb, smX[i], 842, String(smDir[i]), { a: "middle", b: b });
  });
  txt(tb, 437, 827, "speed", { c: GRAY });
  txt(tb, 430, 842, "direction", { c: GRAY });
  txt(tb, 480, 827, "[m/s]", { c: UNIT, s: 8.5 });
  txt(tb, 480, 842, "[°]", { c: UNIT, s: 8.5 });

  // ---- COMPOSITE INDICES ----
  txt(tb, 712, 592, "COMPOSITE CONVECTIVE INDICES & OTHER VALUES", { c: GRAY, b: true });
  ln(tb, 902, 600, 902, 843, "#d0d0d0", 1);
  var clY = [615, 630.5, 645.5, 660, 680.5, 697, 712, 733, 749, 764, 785, 801, 818, 834.5];
  var clUX = [827, 840, 838, 835, 0, 846, 844, 0, 846, 844, 0, 828, 846, 843];
  compLeftLab.forEach(function (l, i) {
    var head = compLeftVal[i] === "";
    var b = (i === 0 || i === 5);
    txt(tb, 712, clY[i], l, { c: head ? GRAY : "#000", b: b });
    if (!head) {
      txt(tb, clUX[i], clY[i], compLeftUnit[i], { c: UNIT, s: 9 });
      txt(tb, 894, clY[i], compLeftVal[i], { a: "end", b: b });
    }
  });
  [665.7, 718.3, 771].forEach(function (y) { ln(tb, 708, y, 898, y, "#d0d0d0", 1); });
  var crY = [615.5, 636, 649.5, 664.5, 685.5, 704, 718, 733, 753, 772, 788, 802, 818, 833];
  compRightLab.forEach(function (l, i) {
    var head = compRightVal[i] === "";
    txt(tb, 907, crY[i], l, { c: head ? GRAY : "#000" });
    if (!head) {
      var u = compRightUnit[i];
      txt(tb, (u === "[-]" && i === 5) || u === "[%]" ? 1020 : 1015, crY[i], u, { c: UNIT, s: 9 });
      txt(tb, 1068, crY[i], compRightVal[i], { a: "end" });
    }
  });
  [671.7, 740].forEach(function (y) { ln(tb, 905, y, 1073, y, "#d0d0d0", 1); });

  // ---- FORCHTGOTT ----
  txt(tb, 1096, 592, "FORCHTGOTT 4V & MODIFs", { c: GRAY, b: true });
  var fgY = [618, 634, 649, 664, 679, 701.5, 719, 734, 756.5, 774, 789, 804, 819];
  tb.append("rect").attr("x", 1180).attr("y", 635).attr("width", 42).attr("height", 20).attr("fill", "#a6f2a6");
  fgLab.forEach(function (l, i) {
    var head = fgVal[i] === "";
    var b = i === 2;
    txt(tb, 1088, fgY[i], l, { c: head ? GRAY : "#000", b: b });
    if (!head) {
      txt(tb, fgUnit[i].length > 4 ? 1160 : 1163, fgY[i], fgUnit[i], { c: UNIT, s: 9 });
      txt(tb, 1210, fgY[i], fgVal[i], { a: "end", c: b ? "#1a9a1a" : "#000" });
    }
  });
})();
</script>
</body>
</html>
